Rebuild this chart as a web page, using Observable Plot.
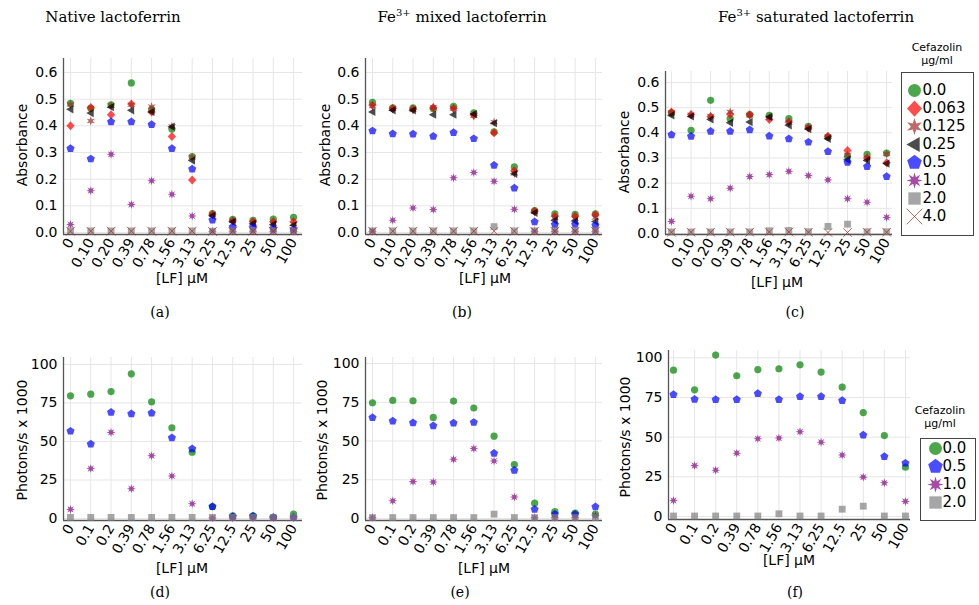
<!DOCTYPE html>
<html><head><meta charset="utf-8">
<script src="https://cdn.jsdelivr.net/npm/d3@7"></script>
<script src="https://cdn.jsdelivr.net/npm/@observablehq/plot@0.6"></script>
<style>
body{margin:0;background:#fff;}
#root{position:relative;width:979px;height:605px;overflow:hidden;font-family:"DejaVu Sans",sans-serif;color:#000;}
.abs{position:absolute;white-space:nowrap;}
.c{transform:translate(-50%,-50%);}
.rot{transform:translate(-50%,-50%) rotate(-90deg);}
.serif{font-family:"DejaVu Serif",serif;}
.ttl{font-size:15px;}
.cap{font-size:14px;}
.lab{font-size:14px;}
.lt{font-size:11px;text-align:center;line-height:13px;}
sup{font-size:10px;vertical-align:6px;line-height:0;}
</style></head><body><div id="root"></div>
<script>
// ---------- categories / labels ----------
const concAbs = ["0","0.10","0.20","0.39","0.78","1.56","3.13","6.25","12.5","25","50","100"];
const concLum = ["0","0.1","0.2","0.39","0.78","1.56","3.13","6.25","12.5","25","50","100"];
const cefAbs = ["0.0","0.063","0.125","0.25","0.5","1.0","2.0","4.0"];
const cefLum = ["0.0","0.5","1.0","2.0"];
const absTicks = [0, 0.1, 0.2, 0.3, 0.4, 0.5, 0.6];
const lumTicks = [0, 25, 50, 75, 100];

// ---------- (a) Native lactoferrin, absorbance ----------
const natAbs_00  = [0.484, 0.466, 0.479, 0.561, 0.462, 0.388, 0.285, 0.071, 0.049, 0.046, 0.050, 0.057];
const natAbs_063 = [0.400, 0.469, 0.442, 0.482, 0.452, 0.360, 0.197, 0.068, 0.043, 0.040, 0.040, 0.040];
const natAbs_125 = [0.480, 0.418, 0.476, 0.479, 0.472, 0.398, 0.282, 0.066, 0.044, 0.036, 0.033, 0.032];
const natAbs_25  = [0.462, 0.448, 0.470, 0.458, 0.452, 0.397, 0.270, 0.063, 0.040, 0.033, 0.030, 0.027];
const natAbs_05  = [0.315, 0.276, 0.415, 0.415, 0.405, 0.315, 0.238, 0.047, 0.021, 0.020, 0.015, 0.010];
const natAbs_10  = [0.030, 0.157, 0.293, 0.105, 0.194, 0.143, 0.062, 0.005, 0.005, 0.005, 0.005, 0.005];
const natAbs_20  = [0.007, 0.006, 0.006, 0.006, 0.006, 0.006, 0.006, 0.005, 0.006, 0.007, 0.006, 0.006];
const natAbs_40  = [0.005, 0.005, 0.005, 0.005, 0.005, 0.005, 0.005, 0.004, 0.005, 0.005, 0.005, 0.005];

// ---------- (b) Fe3+ mixed lactoferrin, absorbance ----------
const mixAbs_00  = [0.488, 0.467, 0.467, 0.464, 0.473, 0.449, 0.377, 0.246, 0.082, 0.070, 0.068, 0.070];
const mixAbs_063 = [0.477, 0.465, 0.462, 0.468, 0.465, 0.440, 0.374, 0.232, 0.080, 0.061, 0.061, 0.067];
const mixAbs_125 = [0.474, 0.464, 0.460, 0.470, 0.464, 0.438, 0.414, 0.222, 0.078, 0.055, 0.052, 0.056];
const mixAbs_25  = [0.452, 0.458, 0.458, 0.442, 0.442, 0.444, 0.410, 0.220, 0.074, 0.045, 0.043, 0.041];
const mixAbs_05  = [0.381, 0.370, 0.369, 0.361, 0.375, 0.352, 0.252, 0.167, 0.040, 0.030, 0.031, 0.027];
const mixAbs_10  = [0.005, 0.046, 0.092, 0.086, 0.205, 0.225, 0.192, 0.087, 0.005, 0.005, 0.005, 0.005];
const mixAbs_20  = [0.006, 0.006, 0.006, 0.006, 0.006, 0.006, 0.022, 0.006, 0.006, 0.007, 0.007, 0.007];
const mixAbs_40  = [0.005, 0.005, 0.005, 0.005, 0.005, 0.005, 0.005, 0.005, 0.005, 0.005, 0.005, 0.005];

// ---------- (c) Fe3+ saturated lactoferrin, absorbance ----------
const satAbs_00  = [0.479, 0.410, 0.529, 0.456, 0.472, 0.469, 0.456, 0.426, 0.383, 0.307, 0.314, 0.319];
const satAbs_063 = [0.483, 0.473, 0.465, 0.474, 0.472, 0.453, 0.443, 0.419, 0.386, 0.330, 0.300, 0.281];
const satAbs_125 = [0.481, 0.471, 0.466, 0.483, 0.470, 0.460, 0.441, 0.421, 0.385, 0.312, 0.300, 0.316];
const satAbs_25  = [0.469, 0.465, 0.453, 0.440, 0.443, 0.463, 0.430, 0.415, 0.376, 0.293, 0.290, 0.278];
const satAbs_05  = [0.392, 0.386, 0.406, 0.406, 0.412, 0.387, 0.376, 0.363, 0.326, 0.283, 0.266, 0.226];
const satAbs_10  = [0.048, 0.148, 0.138, 0.180, 0.226, 0.234, 0.247, 0.230, 0.213, 0.138, 0.124, 0.064];
const satAbs_20  = [0.006, 0.006, 0.006, 0.006, 0.006, 0.011, 0.012, 0.007, 0.028, 0.037, 0.007, 0.007];
const satAbs_40  = [0.005, 0.005, 0.005, 0.005, 0.005, 0.006, 0.006, 0.005, 0.004, 0.004, 0.005, 0.005];

// ---------- (d) Native lactoferrin, photons/s x 1000 ----------
const natLum_00 = [79.6, 80.7, 82.4, 93.9, 75.7, 58.9, 43.0, 7.6, 1.7, 1.7, 0.7, 2.8];
const natLum_05 = [56.7, 48.3, 68.9, 68.0, 68.5, 52.4, 45.2, 7.8, 1.3, 1.5, 0.7, 0.7];
const natLum_10 = [5.9, 32.4, 55.9, 19.3, 40.7, 27.6, 9.6, 0.4, 0.3, 0.3, 0.3, 0.3];
const natLum_20 = [0.7, 0.7, 0.7, 0.7, 0.7, 0.7, 0.7, 0.7, 0.7, 0.7, 0.7, 0.7];

// ---------- (e) Fe3+ mixed lactoferrin, photons/s x 1000 ----------
const mixLum_00 = [74.7, 76.2, 76.0, 65.2, 75.8, 71.3, 53.1, 34.8, 9.9, 4.5, 3.5, 2.8];
const mixLum_05 = [65.2, 62.9, 61.8, 59.8, 61.6, 62.0, 42.1, 31.1, 6.0, 2.8, 2.8, 7.6];
const mixLum_10 = [0.6, 11.4, 23.8, 23.5, 38.2, 45.1, 37.1, 13.8, 0.6, 0.6, 0.6, 1.7];
const mixLum_20 = [0.6, 0.6, 0.6, 0.6, 0.6, 0.6, 2.8, 0.6, 0.6, 0.6, 0.6, 0.6];

// ---------- (f) Fe3+ saturated lactoferrin, photons/s x 1000 ----------
const satLum_00 = [92.2, 79.8, 101.7, 88.7, 92.6, 93.1, 95.6, 91.0, 81.5, 65.5, 51.0, 31.1];
const satLum_05 = [76.9, 73.9, 73.7, 73.7, 77.5, 73.7, 75.6, 75.6, 73.1, 51.3, 37.8, 33.6];
const satLum_10 = [10.1, 32.1, 29.2, 39.9, 49.0, 49.4, 53.4, 46.8, 38.7, 24.8, 21.2, 9.5];
const satLum_20 = [0.3, 0.3, 0.3, 0.3, 0.3, 1.7, 0.3, 0.3, 4.6, 6.5, 0.3, 0.3];

// ---------- marker shapes ----------
function poly(pts){
  return {draw(ctx, size){
    const R = Math.sqrt(size / Math.PI);
    pts.forEach(([x, y], k) => k ? ctx.lineTo(x * R, y * R) : ctx.moveTo(x * R, y * R));
    ctx.closePath();
  }};
}
function regular(n, s){
  const p = [];
  for (let k = 0; k < n; ++k){ const a = -Math.PI / 2 + 2 * Math.PI * k / n; p.push([s * Math.cos(a), s * Math.sin(a)]); }
  return p;
}
function starPts(n, o, inr){
  const p = [];
  for (let k = 0; k < 2 * n; ++k){ const a = -Math.PI / 2 + Math.PI * k / n; const s = k % 2 ? inr : o; p.push([s * Math.cos(a), s * Math.sin(a)]); }
  return p;
}
const symDiamond = poly([[0, -1.25], [1.15, 0], [0, 1.25], [-1.15, 0]]);
const symStar6 = poly(starPts(6, 1.3, 0.55));
const symLTri = poly([[-1.25, 0], [0.8, -1.15], [0.8, 1.15]]);
const symPent = poly(regular(5, 1.18));
const symStar8 = poly(starPts(8, 1.25, 0.55));
const symSquare = poly([[-0.95, -0.95], [0.95, -0.95], [0.95, 0.95], [-0.95, 0.95]]);
const symCross = {draw(ctx, size){
  const R = Math.sqrt(size / Math.PI) * 1.2;
  ctx.moveTo(-R, -R); ctx.lineTo(R, R); ctx.moveTo(R, -R); ctx.lineTo(-R, R);
}};

const styleOf = {
  "0.0":   {color: "green",  sym: "circle"},
  "0.063": {color: "red",    sym: symDiamond},
  "0.125": {color: "brown",  sym: symStar6},
  "0.25":  {color: "black",  sym: symLTri},
  "0.5":   {color: "blue",   sym: symPent},
  "1.0":   {color: "purple", sym: symStar8},
  "2.0":   {color: "gray",   sym: symSquare},
  "4.0":   {color: "brown",  sym: symCross, line: true}
};

const root = document.getElementById("root");
function place(html, x, y, cls){
  const d = document.createElement("div");
  d.className = "abs " + cls;
  d.style.left = x + "px"; d.style.top = y + "px";
  d.innerHTML = html;
  root.appendChild(d);
  return d;
}

const idx = concAbs.map((_, i) => i);

function makePanel(p){
  const mL = 60, mR = 8, mT = 8, mB = 62;
  const dots = p.series.map(([name, vals]) => {
    const st = styleOf[name];
    const rows = vals.map((v, i) => ({i, v}));
    return Plot.dot(rows, {
      x: "i", y: "v", r: 3.6, symbol: st.sym,
      fill: st.line ? "none" : st.color,
      stroke: st.line ? st.color : "none",
      fillOpacity: 0.7, strokeOpacity: 0.7, strokeWidth: 1
    });
  });
  const svg = Plot.plot({
    width: (p.R - p.L) + mL + mR,
    height: (p.B - p.T) + mT + mB,
    marginLeft: mL, marginRight: mR, marginTop: mT, marginBottom: mB,
    style: {fontFamily: "DejaVu Sans", fontSize: "14px", color: "#000", background: "transparent", overflow: "visible"},
    x: {domain: p.xdom},
    y: {domain: p.ydom},
    marks: [
      Plot.gridX(idx, {stroke: "#e6e6e6", strokeOpacity: 1}),
      Plot.gridY(p.yticks, {stroke: "#e6e6e6", strokeOpacity: 1}),
      Plot.ruleY([p.ydom[0]], {stroke: "#555", strokeWidth: 1.3}),
      Plot.ruleX([p.xdom[0]], {stroke: "#555", strokeWidth: 1.3}),
      ...dots,
      Plot.axisX(idx, {tickFormat: i => p.cats[i], tickRotate: -60, tickSize: 0, tickPadding: 5, label: null, fontSize: 14}),
      Plot.axisY(p.yticks, {tickFormat: p.fmt, tickSize: 0, tickPadding: 6, label: null, fontSize: 14})
    ]
  });
  const holder = document.createElement("div");
  holder.className = "abs";
  holder.style.left = (p.L - mL) + "px";
  holder.style.top = (p.T - mT) + "px";
  holder.appendChild(svg);
  root.appendChild(holder);
}

function makeLegend(g){
  const svg = Plot.plot({
    width: g.R - g.L, height: g.B - g.T,
    marginTop: 1, marginBottom: 1, marginLeft: 1, marginRight: 1,
    style: {fontFamily: "DejaVu Sans", fontSize: "15px", color: "#000", background: "#fff"},
    y: {type: "point", domain: g.names, range: g.yrange, padding: 0, axis: null},
    marks: [
      Plot.frame({stroke: "#444", strokeWidth: 1}),
      ...g.names.map(name => {
        const st = styleOf[name];
        return Plot.dot([name], {y: d => d, frameAnchor: "left", dx: g.mx, r: 6.5, symbol: st.sym,
          fill: st.line ? "none" : st.color, stroke: st.line ? st.color : "none",
          fillOpacity: 0.7, strokeOpacity: 0.7, strokeWidth: 1});
      }),
      Plot.text(g.names, {y: d => d, text: d => d, frameAnchor: "left", dx: g.tx, textAnchor: "start", fontSize: 15})
    ]
  });
  const holder = document.createElement("div");
  holder.className = "abs";
  holder.style.left = g.L + "px"; holder.style.top = g.T + "px";
  holder.appendChild(svg);
  root.appendChild(holder);
  place("Cefazolin<br>μg/ml", g.titleX, g.titleY, "lt c");
}

const f1 = d3.format(".1f");
const f0 = d3.format("d");

const panels = [
  {L: 63, R: 302, T: 58, B: 234, xdom: [-0.345, 11.44], ydom: [-0.0075, 0.6525], cats: concAbs, yticks: absTicks, fmt: f1,
   series: [["0.0", natAbs_00], ["0.063", natAbs_063], ["0.125", natAbs_125], ["0.25", natAbs_25], ["0.5", natAbs_05], ["1.0", natAbs_10], ["2.0", natAbs_20], ["4.0", natAbs_40]]},
  {L: 365, R: 602, T: 58, B: 234, xdom: [-0.345, 11.35], ydom: [-0.0075, 0.6525], cats: concAbs, yticks: absTicks, fmt: f1,
   series: [["0.0", mixAbs_00], ["0.063", mixAbs_063], ["0.125", mixAbs_125], ["0.25", mixAbs_25], ["0.5", mixAbs_05], ["1.0", mixAbs_10], ["2.0", mixAbs_20], ["4.0", mixAbs_40]]},
  {L: 665, R: 892, T: 71, B: 234, xdom: [-0.307, 11.3], ydom: [-0.004, 0.6436], cats: concAbs, yticks: absTicks, fmt: f1,
   series: [["0.0", satAbs_00], ["0.063", satAbs_063], ["0.125", satAbs_125], ["0.25", satAbs_25], ["0.5", satAbs_05], ["1.0", satAbs_10], ["2.0", satAbs_20], ["4.0", satAbs_40]]},
  {L: 63, R: 302, T: 357, B: 520, xdom: [-0.345, 11.44], ydom: [-1.3, 104.5], cats: concLum, yticks: lumTicks, fmt: f0,
   series: [["0.0", natLum_00], ["0.5", natLum_05], ["1.0", natLum_10], ["2.0", natLum_20]]},
  {L: 365, R: 602, T: 357, B: 520, xdom: [-0.345, 11.35], ydom: [-1.29, 103.9], cats: concLum, yticks: lumTicks, fmt: f0,
   series: [["0.0", mixLum_00], ["0.5", mixLum_05], ["1.0", mixLum_10], ["2.0", mixLum_20]]},
  {L: 668, R: 910, T: 350, B: 519, xdom: [-0.237, 11.24], ydom: [-1.9, 104.6], cats: concLum, yticks: lumTicks, fmt: f0,
   series: [["0.0", satLum_00], ["0.5", satLum_05], ["1.0", satLum_10], ["2.0", satLum_20]]}
];
panels.forEach(makePanel);

makeLegend({L: 900, R: 974, T: 71, B: 236, names: cefAbs, yrange: [18.3, 145.7], mx: 13, tx: 21, titleX: 937, titleY: 54});
makeLegend({L: 919, R: 976, T: 437, B: 521, names: cefLum, yrange: [11, 65], mx: 15, tx: 22, titleX: 940, titleY: 417});

// ---------- titles, axis labels, captions ----------
place("Native lactoferrin", 113, 17, "serif ttl c");
place("Fe<sup>3+</sup> mixed lactoferrin", 462, 17, "serif ttl c");
place("Fe<sup>3+</sup> saturated lactoferrin", 816, 17, "serif ttl c");

place("Absorbance", 22, 145, "lab rot");
place("Absorbance", 325, 145, "lab rot");
place("Absorbance", 624, 152, "lab rot");
place("Photons/s x 1000", 22, 440, "lab rot");
place("Photons/s x 1000", 322, 440, "lab rot");
place("Photons/s x 1000", 625, 437, "lab rot");

place("[LF] μM", 182, 278, "lab c");
place("[LF] μM", 485, 278, "lab c");
place("[LF] μM", 777, 282, "lab c");
place("[LF] μM", 182, 568, "lab c");
place("[LF] μM", 484, 568, "lab c");
place("[LF] μM", 789, 560, "lab c");

place("(a)", 160, 312, "serif cap c");
place("(b)", 462, 312, "serif cap c");
place("(c)", 795, 312, "serif cap c");
place("(d)", 160, 592, "serif cap c");
place("(e)", 460, 592, "serif cap c");
place("(f)", 795, 592, "serif cap c");
</script></body></html>
